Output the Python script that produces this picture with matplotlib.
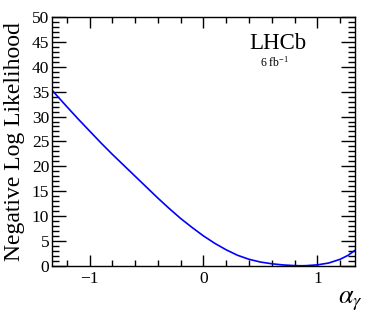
import matplotlib
matplotlib.use("Agg")
import matplotlib.pyplot as plt
from matplotlib.ticker import MultipleLocator

plt.rcParams['font.family'] = ['Liberation Serif', 'DejaVu Serif']
plt.rcParams['mathtext.fontset'] = 'stix'

# Data
alpha = [-1.33, -1.2, -1.1, -1.0, -0.9, -0.8, -0.7, -0.6, -0.5, -0.4, -0.3, -0.2,
         -0.1, 0.0, 0.1, 0.2, 0.3, 0.4, 0.5, 0.6, 0.7, 0.8, 0.86, 0.9, 1.0, 1.1,
         1.2, 1.27, 1.33]
nll = [35.3, 32.0, 29.5, 27.1, 24.7, 22.4, 20.2, 18.0, 15.8, 13.6, 11.5, 9.5,
       7.7, 6.0, 4.5, 3.2, 2.1, 1.3, 0.75, 0.4, 0.16, 0.03, 0.0, 0.02, 0.18,
       0.55, 1.3, 2.1, 3.1]
x_ticks = [-1, 0, 1]
x_ticklabels = ['\u22121', '0', '1']
y_ticks = [0, 5, 10, 15, 20, 25, 30, 35, 40, 45, 50]

fig = plt.figure(figsize=(3.74, 3.16), dpi=100)
ax = fig.add_axes([0.139, 0.159, 0.810, 0.787])

ax.plot(alpha, nll, color='#0000ff', lw=1.2)

ax.set_xlim(-1.33, 1.33)
ax.set_ylim(0, 50)
ax.set_xticks(x_ticks)
ax.set_xticklabels(x_ticklabels)
ax.set_yticks(y_ticks)
ax.xaxis.set_minor_locator(MultipleLocator(0.2))
ax.yaxis.set_minor_locator(MultipleLocator(1))

ax.tick_params(which='both', direction='in', top=True, right=True, width=1,
               labelsize=12.5, color='black')
ax.tick_params(axis='y', which='major', length=10, pad=2)
ax.tick_params(axis='y', which='minor', length=5)
ax.tick_params(axis='x', which='major', length=8, pad=4)
ax.tick_params(axis='x', which='minor', length=4)
for s in ax.spines.values():
    s.set_linewidth(1)

ax.set_ylabel('Negative Log Likelihood', fontsize=17)
ax.yaxis.set_label_coords(-0.088, 0.5)
ax.text(1.025, -0.095, r'$\alpha_{\gamma}$', transform=ax.transAxes,
        ha='right', va='top', fontsize=19)

ax.text(0.745, 0.87, 'LHCb', transform=ax.transAxes, ha='center',
        va='baseline', fontsize=16.5)
ax.text(0.735, 0.80, r'6 fb$^{\mathregular{-1}}$', transform=ax.transAxes,
        ha='center', va='baseline', fontsize=8.5)

fig.savefig('out.png', dpi=100)
